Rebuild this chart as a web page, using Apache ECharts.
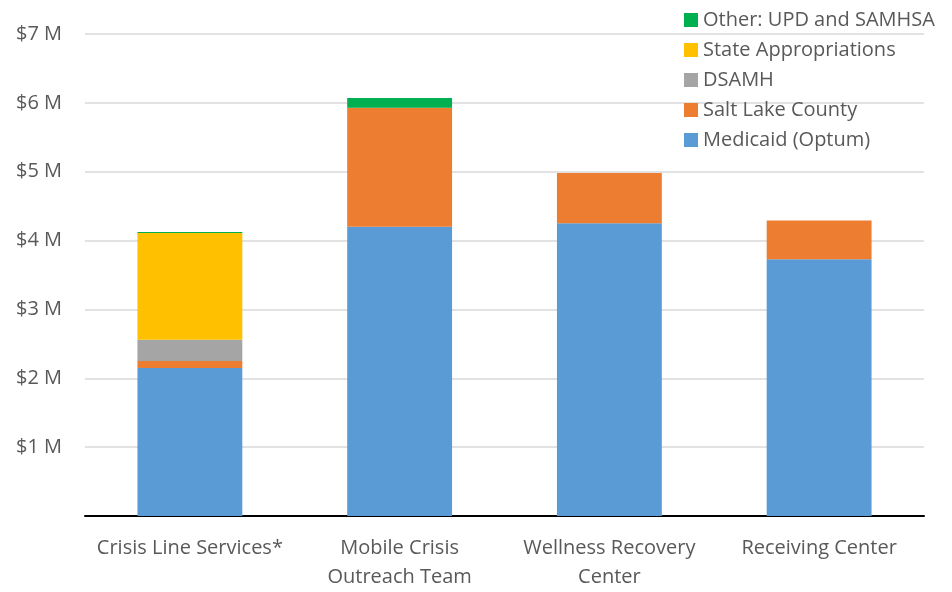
<!DOCTYPE html>
<html><head><meta charset="utf-8">
<script src="https://cdn.jsdelivr.net/npm/echarts@6/dist/echarts.min.js"></script>
<style>html,body{margin:0;padding:0;background:#fff}#c{width:952px;height:592px}</style>
</head><body><div id="c"></div>
<script>
const categories = ['Crisis Line Services*', 'Mobile Crisis\nOutreach Team', 'Wellness Recovery\nCenter', 'Receiving Center'];
const medicaid = [2.15, 4.20, 4.25, 3.73];
const saltLake = [0.10, 1.73, 0.73, 0.56];
const dsamh = [0.31, 0, 0, 0];
const stateApprop = [1.55, 0, 0, 0];
const other = [0.015, 0.14, 0, 0];
const yTicks = [0, 1, 2, 3, 4, 5, 6, 7];

const font = 'Open Sans';
const txt = '#595959';
function mk(name, data, color) {
  return {name, type: 'bar', stack: 'a', data, barWidth: '50%',
    itemStyle: {color}, emphasis: {disabled: true}};
}
const chart = echarts.init(document.getElementById('c'));
chart.setOption({
  animation: false,
  textStyle: {fontFamily: font},
  grid: {left: 85, right: 28, top: 34, bottom: 69, containLabel: false},
  legend: {
    orient: 'vertical', left: 679, top: 5, itemWidth: 14, itemHeight: 14, itemGap: 10,
    icon: 'rect',
    data: ['Other: UPD and SAMHSA', 'State Appropriations', 'DSAMH', 'Salt Lake County', 'Medicaid (Optum)'],
    textStyle: {fontFamily: font, fontSize: 20, lineHeight: 20, color: txt}
  },
  xAxis: {
    type: 'category', data: categories,
    axisLine: {lineStyle: {color: '#000', width: 2}},
    axisTick: {show: false},
    axisLabel: {fontFamily: font, fontSize: 20, color: txt, lineHeight: 29, margin: 18, interval: 0}
  },
  yAxis: {
    type: 'value', min: yTicks[0], max: yTicks[yTicks.length - 1], interval: 1,
    axisLine: {show: false}, axisTick: {show: false},
    splitLine: {lineStyle: {color: '#d9d9d9', width: 1.5}},
    axisLabel: {fontFamily: font, fontSize: 20, color: txt, margin: 23,
      formatter: v => v === 0 ? '' : '$' + v + ' M'}
  },
  series: [
    mk('Medicaid (Optum)', medicaid, '#5b9bd5'),
    mk('Salt Lake County', saltLake, '#ed7d31'),
    mk('DSAMH', dsamh, '#a5a5a5'),
    mk('State Appropriations', stateApprop, '#ffc000'),
    mk('Other: UPD and SAMHSA', other, '#00b050')
  ]
});
</script></body></html>
